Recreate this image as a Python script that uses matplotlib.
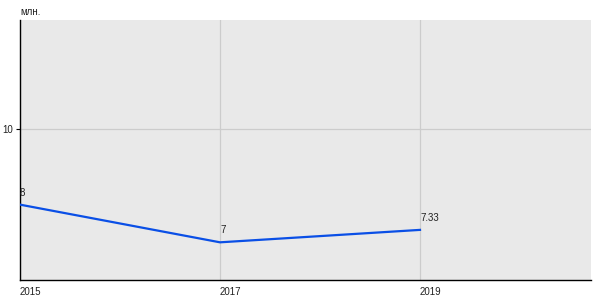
import matplotlib.pyplot as plt

# data
years = [2015, 2017, 2019]
values = [8, 7, 7.33]
value_labels = ["8", "7", "7.33"]
x_ticks = [2015, 2017, 2019]
y_ticks = [10]
unit_label = "млн."

plt.rcParams['font.family'] = ['Liberation Sans', 'DejaVu Sans']

fig = plt.figure(figsize=(6, 3), dpi=100)
ax = fig.add_axes([20 / 600, 20 / 300, 571 / 600, 260 / 300])
ax.set_facecolor('#e9e9e9')

ax.plot(years, values, color='#0a4fe6', linewidth=1.6, zorder=3)

for x, y, lab in zip(years, values, value_labels):
    ax.annotate(lab, (x, y), xytext=(0, 5), textcoords='offset points',
                ha='left', va='bottom', fontsize=7, color='#222222')

ax.set_xlim(2015, 2020.71)
ax.set_ylim(6, 12.9)

ax.set_xticks(x_ticks)
ax.set_xticklabels([str(t) for t in x_ticks], ha='left', fontsize=7, color='#222222')
ax.set_yticks(y_ticks)
ax.set_yticklabels([str(t) for t in y_ticks], fontsize=7, color='#222222')
ax.tick_params(axis='x', length=0, pad=5)
ax.tick_params(axis='y', length=3, width=0.8, pad=2)

ax.grid(True, color='#cccccc', linewidth=0.9)
ax.set_axisbelow(True)

for s in ['top', 'right']:
    ax.spines[s].set_visible(False)
ax.spines['left'].set_linewidth(1.0)
ax.spines['bottom'].set_linewidth(1.0)

fig.text(20 / 600, 1 - 12 / 300, unit_label, fontsize=7, ha='left', va='center', color='#222222')

fig.savefig('out.png', dpi=100)
